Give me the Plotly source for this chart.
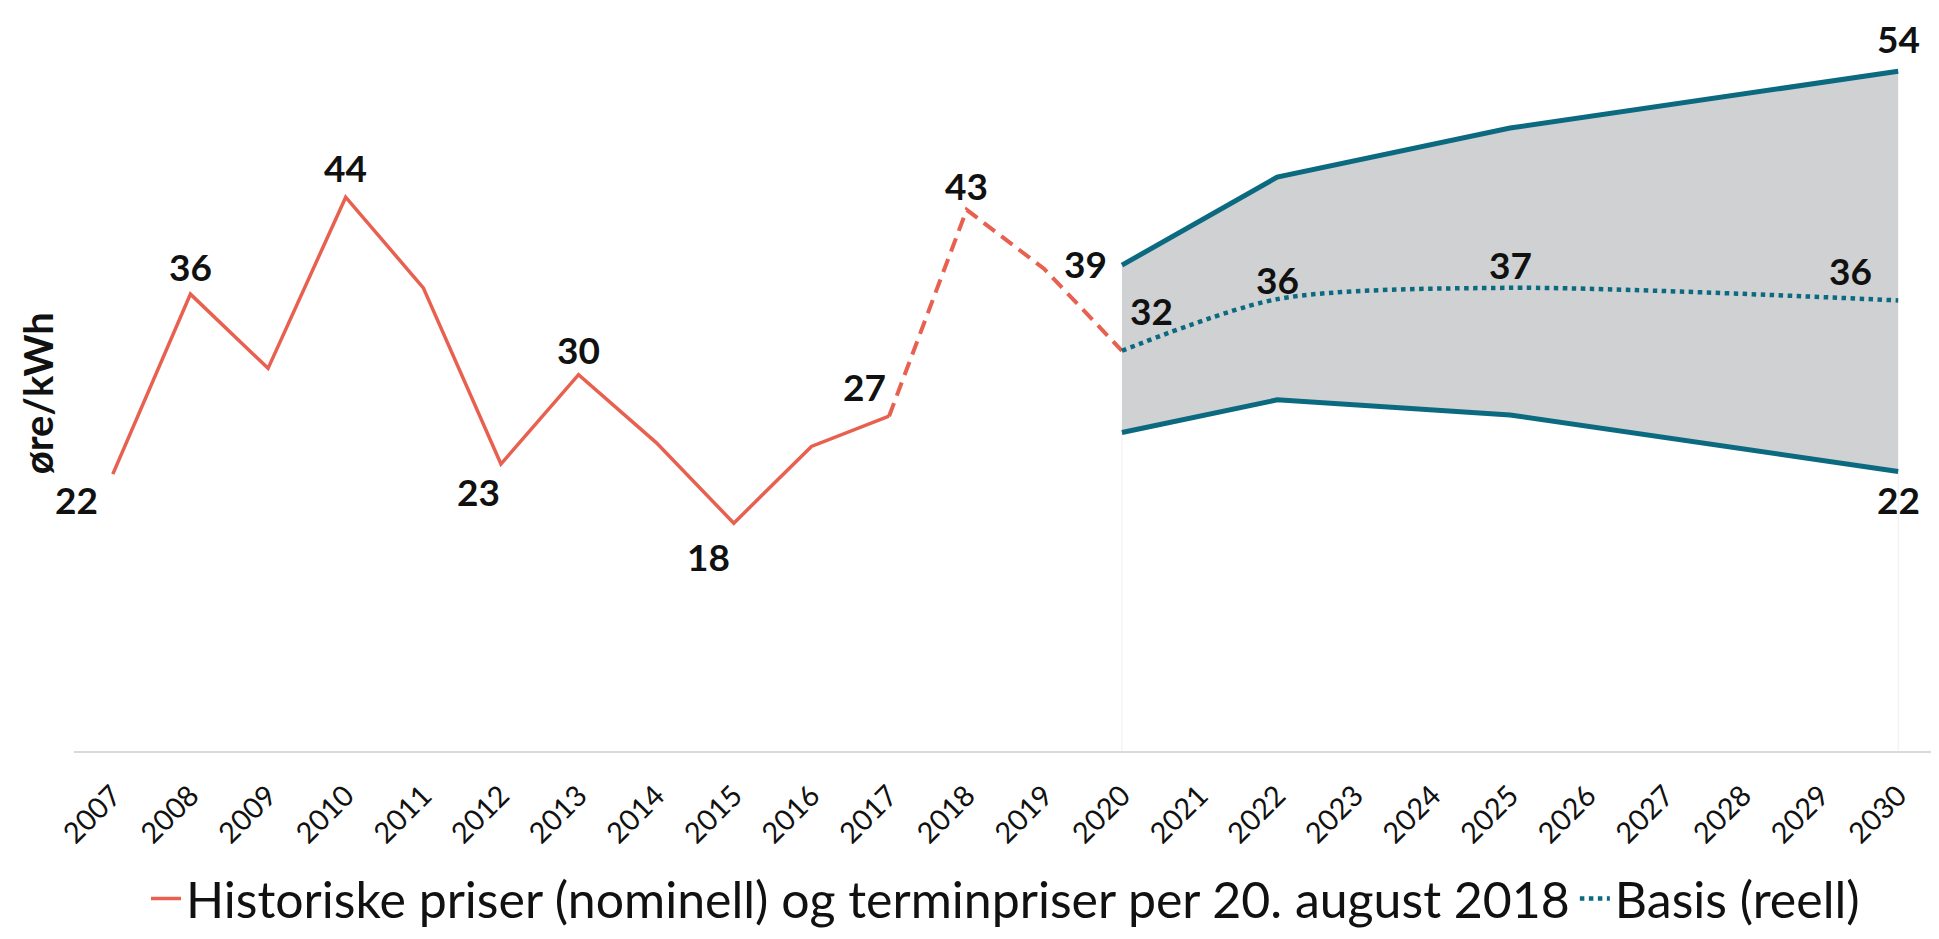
import plotly.graph_objects as go

# ---- data ----
hist_years = [2007, 2008, 2009, 2010, 2011, 2012, 2013, 2014, 2015, 2016, 2017]
hist_values = [22.0, 36.3, 30.4, 44.0, 36.8, 22.8, 29.9, 24.5, 18.1, 24.2, 26.6]
term_years = [2017, 2018, 2019, 2020]
term_values = [26.6, 43.0, 38.3, 31.8]
fc_years = [2020, 2022, 2025, 2030]
upper_values = [38.6, 45.6, 49.5, 54.0]
lower_values = [25.3, 27.9, 26.7, 22.2]
basis_values = [31.8, 35.9, 36.8, 35.8]
tick_years = list(range(2007, 2031))
tick_labels = [str(y) for y in tick_years]

series_hist_name = "Historiske priser (nominell) og terminpriser per 20. august 2018"
series_basis_name = "Basis (reell)"
y_title = "øre/kWh"

# ---- styles ----
RED = "#E8604F"
TEAL = "#0B6A80"
FILL = "#CFD1D2"
FONT = "Lato, Open Sans, sans-serif"

fig = go.Figure()

# faint vertical edges of band down to axis
fig.add_trace(go.Scatter(
    x=[fc_years[0], fc_years[0], None, fc_years[-1], fc_years[-1]],
    y=[0, lower_values[0], None, 0, lower_values[-1]],
    mode="lines", line=dict(color="#EEEEEE", width=1),
    showlegend=False, hoverinfo="skip"))

fig.add_trace(go.Scatter(x=fc_years, y=lower_values, mode="lines",
                         line=dict(color=TEAL, width=5), showlegend=False))
fig.add_trace(go.Scatter(x=fc_years, y=upper_values, mode="lines",
                         line=dict(color=TEAL, width=5), fill="tonexty",
                         fillcolor=FILL, showlegend=False))
fig.add_trace(go.Scatter(x=term_years, y=term_values, mode="lines",
                         line=dict(color=RED, width=4, dash="14px,8px"),
                         showlegend=False))
fig.add_trace(go.Scatter(x=hist_years, y=hist_values, mode="lines",
                         line=dict(color=RED, width=3.5),
                         name=series_hist_name))
fig.add_trace(go.Scatter(x=fc_years, y=basis_values, mode="lines",
                         line=dict(color=TEAL, width=4.5, dash="dot",
                                   shape="spline", smoothing=0.8),
                         name=series_basis_name))

# ---- data labels (value, offsets) ----
label_specs = [
    (hist_years, hist_values, {0: (-36, -25), 1: (0, 28), 3: (0, 30),
                               5: (-22, -27), 6: (0, 25), 8: (-25, -33),
                               10: (-25, 30)}),
    (term_years, term_values, {1: (0, 24)}),
    (fc_years, upper_values, {0: (-36, 2), 3: (0, 33)}),
    (fc_years, basis_values, {0: (30, 40), 1: (0, 20), 2: (0, 23), 3: (-48, 30)}),
    (fc_years, lower_values, {3: (0, -28)}),
]
for xs, ys, offs in label_specs:
    for i, (dx, dy) in offs.items():
        fig.add_annotation(x=xs[i], y=ys[i], text=f"{round(ys[i])}",
                           showarrow=False, xshift=dx, yshift=dy,
                           font=dict(family=FONT, size=37, color="#111111",
                                     weight="bold"))

# y-axis title
fig.add_annotation(xref="paper", yref="paper", x=0, y=0.49, xanchor="center",
                   yanchor="middle", xshift=-36, textangle=-90, text=y_title,
                   showarrow=False,
                   font=dict(size=40, family=FONT, color="#111111", weight="bold"))

fig.update_layout(
    width=1939, height=939,
    margin=dict(l=66, r=10, t=13, b=194),
    paper_bgcolor="white", plot_bgcolor="white",
    font=dict(family=FONT, color="#111111"),
    showlegend=True,
    legend=dict(orientation="h", x=0.5, xanchor="center", y=-0.202,
                yanchor="middle", font=dict(size=50, family=FONT),
                itemwidth=30, tracegroupgap=0, traceorder="normal"),
    hovermode=False,
)
fig.update_xaxes(
    range=[2006.5, 2030.5], tickmode="array", tickvals=tick_years,
    ticktext=tick_labels, tickangle=-45, showgrid=False, zeroline=False,
    showline=True, linecolor="#D9D9D9", linewidth=2, ticks="",
    tickfont=dict(size=29, family=FONT, color="#111111"),
    ticklabelstandoff=14, automargin=False,
)
fig.update_yaxes(
    range=[0, 58], showgrid=False, zeroline=False, showticklabels=False,
    showline=False, automargin=False,
)

fig.write_html("out.html")
